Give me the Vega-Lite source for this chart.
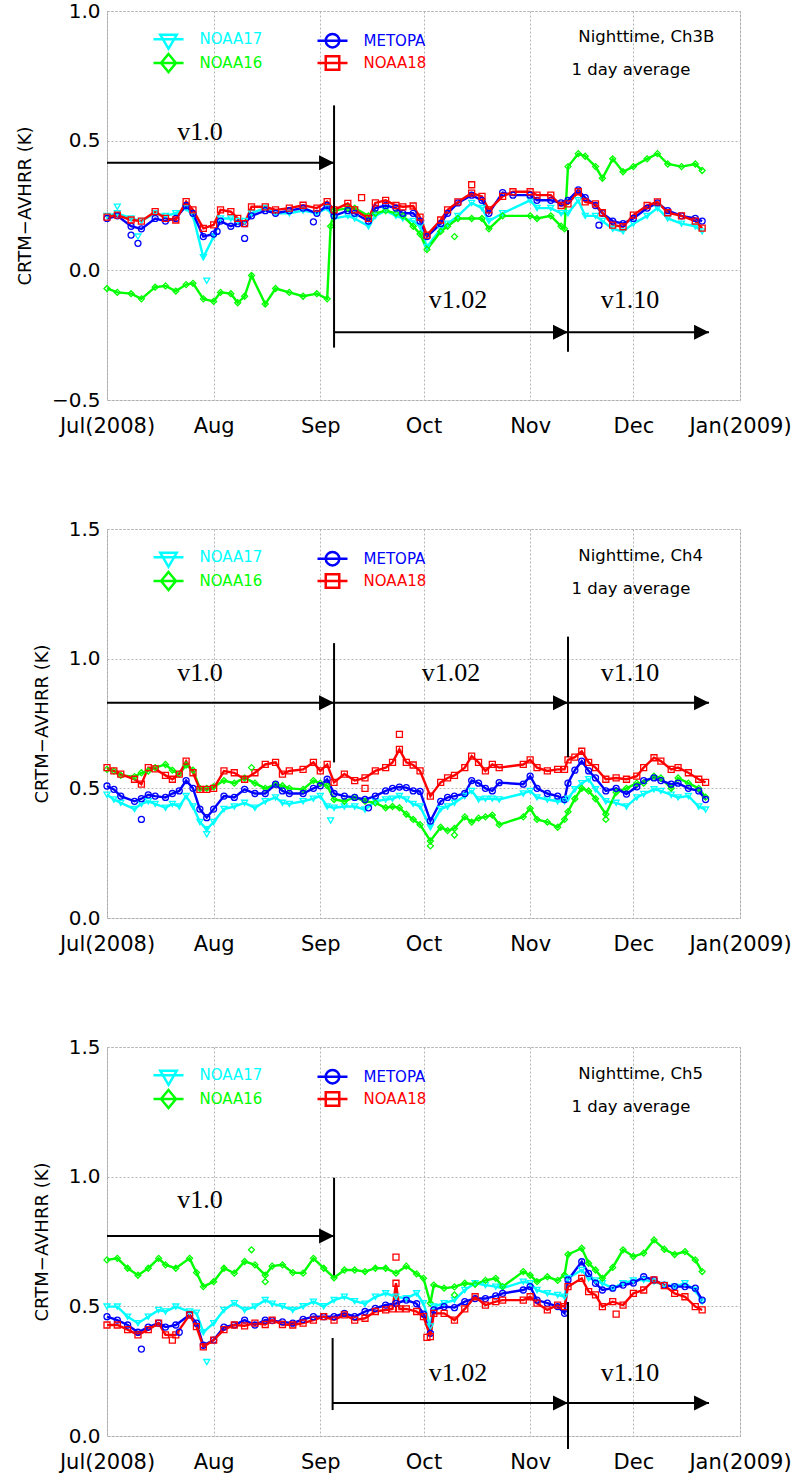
{
"$schema":"https://vega.github.io/schema/vega-lite/v6.json",
"padding":{"top":0,"left":16,"right":5,"bottom":0},
"spacing":81,
"config":{"font":"DejaVu Sans","view":{"stroke":"#a0a0a0","strokeDash":[2,2],"strokeWidth":1},
"axis":{"grid":true,"gridColor":"#b4b4b4","gridDash":[2,2],"gridWidth":1,"domain":false,"ticks":false,"labelFont":"DejaVu Sans","labelFontSize":20,"labelColor":"black","titleFont":"DejaVu Sans","titleFontSize":18,"titleFontWeight":"normal","titleColor":"black"},
"axisX":{"labelPadding":15,"labelAngle":0,"labelFontSize":21},"axisY":{"labelPadding":7,"titlePadding":16.5}},
"resolve":{"legend":{"color":"independent"}},
"datasets":{
"p1":[
{"d":"2008-07-01","NOAA17":0.21,"NOAA16":-0.07,"METOPA":0.20,"NOAA18":0.205},
{"d":"2008-07-04","NOAA17":0.22,"NOAA16":-0.085,"METOPA":0.21,"NOAA18":0.213},
{"d":"2008-07-08","NOAA17":0.20,"NOAA16":-0.09,"METOPA":0.17,"NOAA18":0.194},
{"d":"2008-07-11","NOAA17":0.19,"NOAA16":-0.11,"METOPA":0.16,"NOAA18":0.19},
{"d":"2008-07-15","NOAA17":0.22,"NOAA16":-0.065,"METOPA":0.20,"NOAA18":0.226},
{"d":"2008-07-18","NOAA17":0.21,"NOAA16":-0.06,"METOPA":0.19,"NOAA18":0.20},
{"d":"2008-07-21","NOAA17":0.22,"NOAA16":-0.08,"METOPA":0.20,"NOAA18":0.194},
{"d":"2008-07-24","NOAA17":0.24,"NOAA16":-0.055,"METOPA":0.25,"NOAA18":0.265},
{"d":"2008-07-26","NOAA17":0.21,"NOAA16":-0.05,"METOPA":0.22,"NOAA18":0.233},
{"d":"2008-07-29","NOAA17":0.05,"NOAA16":-0.11,"METOPA":0.13,"NOAA18":0.162},
{"d":"2008-08-01","NOAA17":0.13,"NOAA16":-0.12,"METOPA":0.14,"NOAA18":0.175},
{"d":"2008-08-03","NOAA17":0.20,"NOAA16":-0.085,"METOPA":0.19,"NOAA18":0.233},
{"d":"2008-08-06","NOAA17":0.20,"NOAA16":-0.09,"METOPA":0.17,"NOAA18":0.226},
{"d":"2008-08-08","NOAA17":0.19,"NOAA16":-0.125,"METOPA":0.18,"NOAA18":0.20},
{"d":"2008-08-10","NOAA17":0.19,"NOAA16":-0.10,"METOPA":0.18,"NOAA18":0.18},
{"d":"2008-08-12","NOAA17":0.22,"NOAA16":-0.02,"METOPA":0.21,"NOAA18":0.245},
{"d":"2008-08-16","NOAA17":0.24,"NOAA16":-0.13,"METOPA":0.23,"NOAA18":0.245},
{"d":"2008-08-19","NOAA17":0.22,"NOAA16":-0.07,"METOPA":0.22,"NOAA18":0.233},
{"d":"2008-08-23","NOAA17":0.22,"NOAA16":-0.085,"METOPA":0.23,"NOAA18":0.24},
{"d":"2008-08-27","NOAA17":0.23,"NOAA16":-0.10,"METOPA":0.24,"NOAA18":0.251},
{"d":"2008-08-31","NOAA17":0.22,"NOAA16":-0.09,"METOPA":0.22,"NOAA18":0.24},
{"d":"2008-09-03","NOAA17":0.24,"NOAA16":-0.11,"METOPA":0.25,"NOAA18":0.265},
{"d":"2008-09-04","NOAA16":0.17},
{"d":"2008-09-05","NOAA17":0.20,"NOAA16":0.23,"METOPA":0.21,"NOAA18":0.233},
{"d":"2008-09-09","NOAA17":0.21,"NOAA16":0.24,"METOPA":0.23,"NOAA18":0.258},
{"d":"2008-09-11","NOAA17":0.20,"NOAA16":0.24,"METOPA":0.22,"NOAA18":0.233},
{"d":"2008-09-15","NOAA17":0.17,"NOAA16":0.21,"METOPA":0.19,"NOAA18":0.20},
{"d":"2008-09-17","NOAA17":0.21,"NOAA16":0.22,"METOPA":0.24,"NOAA18":0.26},
{"d":"2008-09-20","NOAA17":0.23,"NOAA16":0.23,"METOPA":0.25,"NOAA18":0.27},
{"d":"2008-09-23","NOAA17":0.21,"NOAA16":0.22,"METOPA":0.24,"NOAA18":0.25},
{"d":"2008-09-25","NOAA17":0.20,"NOAA16":0.21,"METOPA":0.22,"NOAA18":0.245},
{"d":"2008-09-28","NOAA17":0.19,"NOAA16":0.17,"METOPA":0.22,"NOAA18":0.248},
{"d":"2008-09-30","NOAA17":0.17,"NOAA16":0.14,"METOPA":0.19,"NOAA18":0.205},
{"d":"2008-10-02","NOAA17":0.09,"NOAA16":0.08,"METOPA":0.13,"NOAA18":0.136},
{"d":"2008-10-06","NOAA17":0.16,"NOAA16":0.15,"METOPA":0.18,"NOAA18":0.194},
{"d":"2008-10-08","NOAA17":0.18,"NOAA16":0.17,"METOPA":0.22,"NOAA18":0.233},
{"d":"2008-10-11","NOAA17":0.21,"NOAA16":0.20,"METOPA":0.26,"NOAA18":0.264},
{"d":"2008-10-15","NOAA17":0.26,"NOAA16":0.20,"METOPA":0.29,"NOAA18":0.298},
{"d":"2008-10-18","NOAA17":0.24,"NOAA16":0.20,"METOPA":0.27,"NOAA18":0.285},
{"d":"2008-10-20","NOAA17":0.19,"NOAA16":0.16,"METOPA":0.22,"NOAA18":0.233},
{"d":"2008-10-24","NOAA17":0.22,"NOAA16":0.21,"METOPA":0.30,"NOAA18":0.285},
{"d":"2008-10-27","METOPA":0.29,"NOAA18":0.303},
{"d":"2008-11-01","NOAA17":0.27,"NOAA16":0.21,"METOPA":0.29,"NOAA18":0.303},
{"d":"2008-11-03","NOAA17":0.24,"NOAA16":0.20,"METOPA":0.27,"NOAA18":0.29},
{"d":"2008-11-07","NOAA17":0.24,"NOAA16":0.21,"METOPA":0.27,"NOAA18":0.29},
{"d":"2008-11-10","NOAA17":0.22,"NOAA16":0.17,"METOPA":0.26,"NOAA18":0.25},
{"d":"2008-11-11","NOAA16":0.16},
{"d":"2008-11-12","NOAA17":0.22,"NOAA16":0.40,"METOPA":0.27,"NOAA18":0.256},
{"d":"2008-11-15","NOAA17":0.27,"NOAA16":0.45,"METOPA":0.31,"NOAA18":0.303},
{"d":"2008-11-17","NOAA17":0.21,"NOAA16":0.44,"METOPA":0.28,"NOAA18":0.264},
{"d":"2008-11-20","NOAA17":0.21,"NOAA16":0.40,"METOPA":0.25,"NOAA18":0.256},
{"d":"2008-11-22","NOAA17":0.19,"NOAA16":0.355,"METOPA":0.22,"NOAA18":0.222},
{"d":"2008-11-25","NOAA17":0.16,"NOAA16":0.43,"METOPA":0.19,"NOAA18":0.174},
{"d":"2008-11-28","NOAA17":0.15,"NOAA16":0.38,"METOPA":0.18,"NOAA18":0.168},
{"d":"2008-12-01","NOAA17":0.18,"NOAA16":0.40,"METOPA":0.20,"NOAA18":0.213},
{"d":"2008-12-05","NOAA17":0.21,"NOAA16":0.43,"METOPA":0.24,"NOAA18":0.25},
{"d":"2008-12-08","NOAA17":0.24,"NOAA16":0.45,"METOPA":0.26,"NOAA18":0.264},
{"d":"2008-12-11","NOAA17":0.20,"NOAA16":0.41,"METOPA":0.23,"NOAA18":0.222},
{"d":"2008-12-15","NOAA17":0.18,"NOAA16":0.40,"METOPA":0.21,"NOAA18":0.21},
{"d":"2008-12-19","NOAA17":0.17,"NOAA16":0.41,"METOPA":0.20,"NOAA18":0.19},
{"d":"2008-12-21","NOAA17":0.15,"NOAA16":0.385,"METOPA":0.19,"NOAA18":0.163}
],
"o1":[
{"d":"2008-07-08","s":"METOPA","v":0.136},{"d":"2008-07-10","s":"METOPA","v":0.104},{"d":"2008-07-10","s":"NOAA17","v":0.13},
{"d":"2008-07-30","s":"NOAA17","v":-0.04},{"d":"2008-08-10","s":"METOPA","v":0.123},{"d":"2008-08-02","s":"METOPA","v":0.15},
{"d":"2008-08-30","s":"METOPA","v":0.187},{"d":"2008-10-10","s":"NOAA16","v":0.13},{"d":"2008-11-21","s":"METOPA","v":0.174},
{"d":"2008-10-15","s":"NOAA18","v":0.33},{"d":"2008-07-04","s":"NOAA17","v":0.245},{"d":"2008-09-13","s":"NOAA18","v":0.28}
],
"a1":[{"d":"2008-07-01","d2":"2008-09-05","v":0.415},{"d":"2008-09-05","d2":"2008-11-12","v":-0.239},{"d":"2008-11-12","d2":"2008-12-23","v":-0.239}],
"v1":[{"d":"2008-09-05","v":0.636,"v2":-0.298},{"d":"2008-11-12","v":0.155,"v2":-0.314}],
"t1":[{"d":"2008-07-28","v":0.504,"t":"v1.0"},{"d":"2008-10-11","v":-0.147,"t":"v1.02"},{"d":"2008-11-30","v":-0.147,"t":"v1.10"}],
"n1":[{"d":"2008-11-15","v":0.88,"t":"Nighttime, Ch3B"},{"d":"2008-11-13","v":0.752,"t":"1 day average"}],
"p2":[
{"d":"2008-07-01","NOAA17":0.475,"NOAA16":0.573,"METOPA":0.509,"NOAA18":0.58},
{"d":"2008-07-03","NOAA17":0.457,"NOAA16":0.567,"METOPA":0.496,"NOAA18":0.567},
{"d":"2008-07-05","NOAA17":0.444,"NOAA16":0.55,"METOPA":0.47,"NOAA18":0.555},
{"d":"2008-07-09","NOAA17":0.42,"NOAA16":0.545,"METOPA":0.45,"NOAA18":0.535},
{"d":"2008-07-11","NOAA17":0.44,"NOAA16":0.56,"METOPA":0.46,"NOAA18":0.516},
{"d":"2008-07-13","NOAA17":0.45,"NOAA16":0.567,"METOPA":0.475,"NOAA18":0.58},
{"d":"2008-07-15","NOAA17":0.44,"NOAA16":0.58,"METOPA":0.47,"NOAA18":0.575},
{"d":"2008-07-18","NOAA17":0.425,"NOAA16":0.592,"METOPA":0.465,"NOAA18":0.55},
{"d":"2008-07-20","NOAA17":0.44,"NOAA16":0.57,"METOPA":0.48,"NOAA18":0.535},
{"d":"2008-07-22","NOAA17":0.43,"NOAA16":0.555,"METOPA":0.49,"NOAA18":0.555},
{"d":"2008-07-24","NOAA17":0.47,"NOAA16":0.59,"METOPA":0.53,"NOAA18":0.605},
{"d":"2008-07-26","NOAA17":0.43,"NOAA16":0.57,"METOPA":0.50,"NOAA18":0.56},
{"d":"2008-07-28","NOAA17":0.37,"NOAA16":0.50,"METOPA":0.42,"NOAA18":0.496},
{"d":"2008-07-30","NOAA17":0.342,"NOAA16":0.50,"METOPA":0.387,"NOAA18":0.496},
{"d":"2008-08-01","NOAA17":0.37,"NOAA16":0.506,"METOPA":0.42,"NOAA18":0.50},
{"d":"2008-08-04","NOAA17":0.42,"NOAA16":0.53,"METOPA":0.47,"NOAA18":0.567},
{"d":"2008-08-07","NOAA17":0.43,"NOAA16":0.52,"METOPA":0.465,"NOAA18":0.56},
{"d":"2008-08-10","NOAA17":0.444,"NOAA16":0.54,"METOPA":0.496,"NOAA18":0.535},
{"d":"2008-08-13","NOAA17":0.425,"NOAA16":0.52,"METOPA":0.48,"NOAA18":0.56},
{"d":"2008-08-16","NOAA17":0.45,"NOAA16":0.50,"METOPA":0.48,"NOAA18":0.592},
{"d":"2008-08-19","NOAA17":0.465,"NOAA16":0.515,"METOPA":0.516,"NOAA18":0.60},
{"d":"2008-08-21","NOAA17":0.444,"NOAA16":0.51,"METOPA":0.49,"NOAA18":0.555},
{"d":"2008-08-23","NOAA17":0.44,"NOAA16":0.50,"METOPA":0.48,"NOAA18":0.567},
{"d":"2008-08-27","NOAA17":0.45,"NOAA16":0.496,"METOPA":0.48,"NOAA18":0.573},
{"d":"2008-08-30","NOAA17":0.46,"NOAA16":0.53,"METOPA":0.50,"NOAA18":0.60},
{"d":"2008-09-01","NOAA17":0.47,"NOAA16":0.52,"METOPA":0.51,"NOAA18":0.567},
{"d":"2008-09-03","NOAA17":0.43,"NOAA16":0.51,"METOPA":0.535,"NOAA18":0.592},
{"d":"2008-09-05","NOAA17":0.425,"NOAA16":0.457,"METOPA":0.48,"NOAA18":0.523},
{"d":"2008-09-08","NOAA17":0.43,"NOAA16":0.45,"METOPA":0.47,"NOAA18":0.555},
{"d":"2008-09-11","NOAA17":0.43,"NOAA16":0.465,"METOPA":0.465,"NOAA18":0.53},
{"d":"2008-09-14","NOAA17":0.418,"NOAA16":0.45,"METOPA":0.457,"NOAA18":0.54},
{"d":"2008-09-17","NOAA17":0.45,"NOAA16":0.444,"METOPA":0.47,"NOAA18":0.567},
{"d":"2008-09-20","NOAA17":0.457,"NOAA16":0.425,"METOPA":0.49,"NOAA18":0.58},
{"d":"2008-09-22","NOAA17":0.46,"NOAA16":0.43,"METOPA":0.50,"NOAA18":0.60},
{"d":"2008-09-24","NOAA17":0.47,"NOAA16":0.425,"METOPA":0.505,"NOAA18":0.65},
{"d":"2008-09-26","NOAA17":0.457,"NOAA16":0.40,"METOPA":0.503,"NOAA18":0.60},
{"d":"2008-09-28","NOAA17":0.44,"NOAA16":0.38,"METOPA":0.49,"NOAA18":0.59},
{"d":"2008-09-30","NOAA17":0.43,"NOAA16":0.36,"METOPA":0.488,"NOAA18":0.567},
{"d":"2008-10-03","NOAA17":0.35,"NOAA16":0.297,"METOPA":0.374,"NOAA18":0.47},
{"d":"2008-10-06","NOAA17":0.42,"NOAA16":0.35,"METOPA":0.45,"NOAA18":0.523},
{"d":"2008-10-08","NOAA17":0.43,"NOAA16":0.337,"METOPA":0.465,"NOAA18":0.54},
{"d":"2008-10-10","NOAA17":0.444,"NOAA16":0.345,"METOPA":0.47,"NOAA18":0.55},
{"d":"2008-10-13","NOAA17":0.47,"NOAA16":0.39,"METOPA":0.48,"NOAA18":0.58},
{"d":"2008-10-15","NOAA17":0.49,"NOAA16":0.37,"METOPA":0.53,"NOAA18":0.624},
{"d":"2008-10-17","NOAA17":0.457,"NOAA16":0.385,"METOPA":0.52,"NOAA18":0.60},
{"d":"2008-10-19","NOAA17":0.46,"NOAA16":0.39,"METOPA":0.50,"NOAA18":0.567},
{"d":"2008-10-21","NOAA17":0.46,"NOAA16":0.397,"METOPA":0.49,"NOAA18":0.592},
{"d":"2008-10-23","NOAA17":0.457,"NOAA16":0.36,"METOPA":0.522,"NOAA18":0.58},
{"d":"2008-10-30","NOAA17":0.48,"NOAA16":0.39,"METOPA":0.516,"NOAA18":0.592},
{"d":"2008-11-01","NOAA17":0.49,"NOAA16":0.423,"METOPA":0.547,"NOAA18":0.61},
{"d":"2008-11-03","NOAA17":0.465,"NOAA16":0.38,"METOPA":0.50,"NOAA18":0.58},
{"d":"2008-11-06","NOAA17":0.457,"NOAA16":0.37,"METOPA":0.48,"NOAA18":0.567},
{"d":"2008-11-09","NOAA17":0.45,"NOAA16":0.35,"METOPA":0.47,"NOAA18":0.573},
{"d":"2008-11-11","NOAA17":0.45,"NOAA16":0.38,"METOPA":0.457,"NOAA18":0.573},
{"d":"2008-11-12","NOAA17":0.46,"NOAA16":0.41,"METOPA":0.52,"NOAA18":0.61},
{"d":"2008-11-14","NOAA17":0.496,"NOAA16":0.46,"METOPA":0.57,"NOAA18":0.62},
{"d":"2008-11-16","NOAA17":0.52,"NOAA16":0.50,"METOPA":0.605,"NOAA18":0.643},
{"d":"2008-11-18","NOAA17":0.535,"NOAA16":0.49,"METOPA":0.567,"NOAA18":0.60},
{"d":"2008-11-20","NOAA17":0.496,"NOAA16":0.46,"METOPA":0.54,"NOAA18":0.58},
{"d":"2008-11-23","NOAA17":0.45,"NOAA16":0.40,"METOPA":0.49,"NOAA18":0.535},
{"d":"2008-11-26","NOAA17":0.444,"NOAA16":0.485,"METOPA":0.50,"NOAA18":0.54},
{"d":"2008-11-29","NOAA17":0.43,"NOAA16":0.50,"METOPA":0.478,"NOAA18":0.535},
{"d":"2008-12-02","NOAA17":0.465,"NOAA16":0.52,"METOPA":0.506,"NOAA18":0.547},
{"d":"2008-12-04","NOAA17":0.478,"NOAA16":0.52,"METOPA":0.53,"NOAA18":0.58},
{"d":"2008-12-07","NOAA17":0.496,"NOAA16":0.547,"METOPA":0.54,"NOAA18":0.618},
{"d":"2008-12-09","NOAA17":0.49,"NOAA16":0.54,"METOPA":0.53,"NOAA18":0.605},
{"d":"2008-12-12","NOAA17":0.475,"NOAA16":0.50,"METOPA":0.516,"NOAA18":0.573},
{"d":"2008-12-14","NOAA17":0.465,"NOAA16":0.54,"METOPA":0.52,"NOAA18":0.58},
{"d":"2008-12-17","NOAA17":0.47,"NOAA16":0.52,"METOPA":0.50,"NOAA18":0.56},
{"d":"2008-12-20","NOAA17":0.43,"NOAA16":0.50,"METOPA":0.49,"NOAA18":0.535},
{"d":"2008-12-22","NOAA17":0.418,"NOAA16":0.466,"METOPA":0.457,"NOAA18":0.523}
],
"o2":[
{"d":"2008-09-24","s":"NOAA18","v":0.708},{"d":"2008-09-14","s":"NOAA18","v":0.50},{"d":"2008-07-11","s":"METOPA","v":0.38},
{"d":"2008-09-04","s":"NOAA17","v":0.376},{"d":"2008-09-15","s":"METOPA","v":0.425},{"d":"2008-08-12","s":"NOAA16","v":0.58},
{"d":"2008-10-03","s":"NOAA16","v":0.278},{"d":"2008-10-10","s":"NOAA16","v":0.32},{"d":"2008-11-23","s":"NOAA16","v":0.38},
{"d":"2008-07-30","s":"NOAA17","v":0.323}
],
"a2":[{"d":"2008-07-01","d2":"2008-09-05","v":0.83},{"d":"2008-09-05","d2":"2008-11-12","v":0.83},{"d":"2008-11-12","d2":"2008-12-23","v":0.83}],
"v2":[{"d":"2008-09-05","v":1.06,"v2":0.60},{"d":"2008-11-12","v":1.085,"v2":0.62}],
"t2":[{"d":"2008-07-28","v":0.915,"t":"v1.0"},{"d":"2008-10-09","v":0.915,"t":"v1.02"},{"d":"2008-11-30","v":0.915,"t":"v1.10"}],
"n2":[{"d":"2008-11-15","v":1.377,"t":"Nighttime, Ch4"},{"d":"2008-11-13","v":1.25,"t":"1 day average"}],
"p3":[
{"d":"2008-07-01","NOAA17":0.499,"NOAA16":0.679,"METOPA":0.46,"NOAA18":0.428},
{"d":"2008-07-04","NOAA17":0.499,"NOAA16":0.685,"METOPA":0.447,"NOAA18":0.428},
{"d":"2008-07-07","NOAA17":0.46,"NOAA16":0.647,"METOPA":0.428,"NOAA18":0.41},
{"d":"2008-07-10","NOAA17":0.435,"NOAA16":0.62,"METOPA":0.40,"NOAA18":0.39},
{"d":"2008-07-13","NOAA17":0.46,"NOAA16":0.647,"METOPA":0.42,"NOAA18":0.41},
{"d":"2008-07-16","NOAA17":0.486,"NOAA16":0.685,"METOPA":0.435,"NOAA18":0.435},
{"d":"2008-07-18","NOAA17":0.48,"NOAA16":0.66,"METOPA":0.42,"NOAA18":0.39},
{"d":"2008-07-21","NOAA17":0.499,"NOAA16":0.647,"METOPA":0.428,"NOAA18":0.39},
{"d":"2008-07-25","NOAA17":0.48,"NOAA16":0.685,"METOPA":0.467,"NOAA18":0.467},
{"d":"2008-07-27","NOAA17":0.475,"NOAA16":0.63,"METOPA":0.435,"NOAA18":0.422},
{"d":"2008-07-29","NOAA17":0.40,"NOAA16":0.576,"METOPA":0.35,"NOAA18":0.344},
{"d":"2008-08-01","NOAA17":0.435,"NOAA16":0.595,"METOPA":0.37,"NOAA18":0.37},
{"d":"2008-08-04","NOAA17":0.486,"NOAA16":0.647,"METOPA":0.42,"NOAA18":0.41},
{"d":"2008-08-07","NOAA17":0.512,"NOAA16":0.628,"METOPA":0.428,"NOAA18":0.428},
{"d":"2008-08-10","NOAA17":0.486,"NOAA16":0.673,"METOPA":0.447,"NOAA18":0.425},
{"d":"2008-08-13","NOAA17":0.499,"NOAA16":0.66,"METOPA":0.428,"NOAA18":0.435},
{"d":"2008-08-16","NOAA17":0.524,"NOAA16":0.62,"METOPA":0.447,"NOAA18":0.43},
{"d":"2008-08-18","NOAA17":0.51,"NOAA16":0.655,"METOPA":0.445,"NOAA18":0.447},
{"d":"2008-08-21","NOAA17":0.50,"NOAA16":0.66,"METOPA":0.44,"NOAA18":0.43},
{"d":"2008-08-24","NOAA17":0.486,"NOAA16":0.63,"METOPA":0.435,"NOAA18":0.428},
{"d":"2008-08-27","NOAA17":0.50,"NOAA16":0.628,"METOPA":0.45,"NOAA18":0.435},
{"d":"2008-08-30","NOAA17":0.518,"NOAA16":0.685,"METOPA":0.46,"NOAA18":0.447},
{"d":"2008-09-02","NOAA17":0.50,"NOAA16":0.647,"METOPA":0.46,"NOAA18":0.46},
{"d":"2008-09-05","NOAA17":0.524,"NOAA16":0.61,"METOPA":0.46,"NOAA18":0.447},
{"d":"2008-09-08","NOAA17":0.537,"NOAA16":0.64,"METOPA":0.473,"NOAA18":0.467},
{"d":"2008-09-11","NOAA17":0.52,"NOAA16":0.64,"METOPA":0.46,"NOAA18":0.447},
{"d":"2008-09-14","NOAA17":0.51,"NOAA16":0.634,"METOPA":0.48,"NOAA18":0.454},
{"d":"2008-09-17","NOAA17":0.537,"NOAA16":0.647,"METOPA":0.492,"NOAA18":0.48},
{"d":"2008-09-20","NOAA17":0.55,"NOAA16":0.647,"METOPA":0.505,"NOAA18":0.486},
{"d":"2008-09-22","NOAA18":0.49},
{"d":"2008-09-23","NOAA17":0.537,"NOAA16":0.628,"METOPA":0.511,"NOAA18":0.589},
{"d":"2008-09-24","NOAA18":0.49},
{"d":"2008-09-26","NOAA17":0.531,"NOAA16":0.655,"METOPA":0.524,"NOAA18":0.49},
{"d":"2008-09-29","NOAA17":0.55,"NOAA16":0.625,"METOPA":0.51,"NOAA18":0.48},
{"d":"2008-10-01","NOAA17":0.512,"NOAA16":0.608,"METOPA":0.47,"NOAA18":0.46},
{"d":"2008-10-03","NOAA17":0.422,"NOAA16":0.512,"METOPA":0.396,"NOAA18":0.383},
{"d":"2008-10-04","NOAA17":0.499,"NOAA16":0.582,"METOPA":0.486,"NOAA18":0.473},
{"d":"2008-10-07","NOAA17":0.512,"NOAA16":0.57,"METOPA":0.499,"NOAA18":0.473},
{"d":"2008-10-10","NOAA17":0.524,"NOAA16":0.575,"METOPA":0.495,"NOAA18":0.447},
{"d":"2008-10-13","NOAA17":0.563,"NOAA16":0.589,"METOPA":0.518,"NOAA18":0.49},
{"d":"2008-10-16","NOAA17":0.589,"NOAA16":0.585,"METOPA":0.53,"NOAA18":0.537},
{"d":"2008-10-19","NOAA17":0.582,"NOAA16":0.60,"METOPA":0.53,"NOAA18":0.505},
{"d":"2008-10-22","NOAA17":0.576,"NOAA16":0.608,"METOPA":0.54,"NOAA18":0.518},
{"d":"2008-10-24","NOAA17":0.57,"NOAA16":0.576,"METOPA":0.55,"NOAA18":0.524},
{"d":"2008-10-30","NOAA17":0.595,"NOAA16":0.634,"METOPA":0.563,"NOAA18":0.524},
{"d":"2008-11-01","NOAA17":0.589,"NOAA16":0.62,"METOPA":0.576,"NOAA18":0.537},
{"d":"2008-11-03","NOAA17":0.563,"NOAA16":0.595,"METOPA":0.524,"NOAA18":0.512},
{"d":"2008-11-06","NOAA17":0.55,"NOAA16":0.614,"METOPA":0.512,"NOAA18":0.486},
{"d":"2008-11-09","NOAA17":0.544,"NOAA16":0.60,"METOPA":0.499,"NOAA18":0.505},
{"d":"2008-11-11","NOAA17":0.537,"NOAA16":0.621,"METOPA":0.473,"NOAA18":0.499},
{"d":"2008-11-12","NOAA17":0.608,"NOAA16":0.70,"METOPA":0.602,"NOAA18":0.576},
{"d":"2008-11-16","NOAA17":0.64,"NOAA16":0.724,"METOPA":0.672,"NOAA18":0.608},
{"d":"2008-11-18","NOAA17":0.608,"NOAA16":0.666,"METOPA":0.627,"NOAA18":0.557},
{"d":"2008-11-20","NOAA17":0.60,"NOAA16":0.64,"METOPA":0.589,"NOAA18":0.544},
{"d":"2008-11-22","NOAA17":0.589,"NOAA16":0.608,"METOPA":0.563,"NOAA18":0.499},
{"d":"2008-11-25","NOAA17":0.57,"NOAA16":0.65,"METOPA":0.57,"NOAA18":0.518},
{"d":"2008-11-28","NOAA17":0.589,"NOAA16":0.718,"METOPA":0.582,"NOAA18":0.505},
{"d":"2008-12-01","NOAA17":0.60,"NOAA16":0.692,"METOPA":0.59,"NOAA18":0.55},
{"d":"2008-12-04","NOAA17":0.602,"NOAA16":0.705,"METOPA":0.614,"NOAA18":0.563},
{"d":"2008-12-07","NOAA17":0.595,"NOAA16":0.756,"METOPA":0.602,"NOAA18":0.602},
{"d":"2008-12-10","NOAA17":0.582,"NOAA16":0.72,"METOPA":0.582,"NOAA18":0.58},
{"d":"2008-12-13","NOAA17":0.576,"NOAA16":0.70,"METOPA":0.576,"NOAA18":0.55},
{"d":"2008-12-16","NOAA17":0.589,"NOAA16":0.711,"METOPA":0.576,"NOAA18":0.537},
{"d":"2008-12-19","NOAA17":0.563,"NOAA16":0.679,"METOPA":0.57,"NOAA18":0.499},
{"d":"2008-12-21","NOAA17":0.518,"NOAA16":0.634,"METOPA":0.524,"NOAA18":0.486}
],
"o3":[
{"d":"2008-09-23","s":"NOAA18","v":0.69},{"d":"2008-07-30","s":"NOAA17","v":0.285},{"d":"2008-07-11","s":"METOPA","v":0.335},
{"d":"2008-08-12","s":"NOAA16","v":0.718},{"d":"2008-08-16","s":"NOAA16","v":0.595},{"d":"2008-07-20","s":"NOAA18","v":0.37},
{"d":"2008-10-10","s":"NOAA16","v":0.544},{"d":"2008-10-02","s":"NOAA18","v":0.38},{"d":"2008-11-26","s":"NOAA18","v":0.47},
{"d":"2008-07-22","s":"METOPA","v":0.40}
],
"a3":[{"d":"2008-07-01","d2":"2008-09-05","v":0.771},{"d":"2008-09-04T14:00:00Z","d2":"2008-11-12","v":0.127},{"d":"2008-11-12","d2":"2008-12-23","v":0.127}],
"v3":[{"d":"2008-09-05","v":0.996,"v2":0.62},{"d":"2008-09-04T14:00:00Z","v":0.378,"v2":0.10},{"d":"2008-11-12","v":0.517,"v2":-0.05}],
"t3":[{"d":"2008-07-28","v":0.879,"t":"v1.0"},{"d":"2008-10-11","v":0.212,"t":"v1.02"},{"d":"2008-11-30","v":0.212,"t":"v1.10"}],
"n3":[{"d":"2008-11-15","v":1.377,"t":"Nighttime, Ch5"},{"d":"2008-11-13","v":1.25,"t":"1 day average"}]
},
"vconcat":[
{"width":633,"height":389,
"encoding":{
"x":{"field":"d","type":"temporal","scale":{"type":"utc","domain":[{"year":2008,"month":7,"date":1,"utc":true},{"year":2009,"month":1,"date":1,"utc":true}]},"axis":{"title":null,"values":[{"year":2008,"month":7,"date":1,"utc":true},{"year":2008,"month":8,"date":1,"utc":true},{"year":2008,"month":9,"date":1,"utc":true},{"year":2008,"month":10,"date":1,"utc":true},{"year":2008,"month":11,"date":1,"utc":true},{"year":2008,"month":12,"date":1,"utc":true},{"year":2009,"month":1,"date":1,"utc":true}],"labelExpr":"utcFormat(datum.value, '%b') + (utcmonth(datum.value) == 6 ? '(2008)' : utcmonth(datum.value) == 0 ? '(2009)' : '')","labelFlush":false,"labelOverlap":false,"labelBound":false}},
"y":{"field":"v","type":"quantitative","scale":{"domain":[-0.5,1.0],"nice":false,"zero":false},"axis":{"title":"CRTM−AVHRR (K)","values":[-0.5,0,0.5,1],"format":".1f"}}},
"layer":[
{"data":{"name":"p1"},"transform":[{"fold":["NOAA17","NOAA16","METOPA","NOAA18"],"as":["s","v"]},{"filter":"isValid(datum.v)"}],
"mark":{"type":"line","strokeWidth":2.4},
"encoding":{"color":{"field":"s","type":"nominal","scale":{"domain":["NOAA17","METOPA","NOAA16","NOAA18"],"range":["#00ffff","#0000ff","#00ff00","#ff0000"]},
"legend":{"orient":"none","legendX":52.5,"legendY":19,"columns":2,"direction":"horizontal","title":null,"padding":0,"symbolSize":225,"symbolStrokeWidth":2.5,"labelFont":"DejaVu Sans","labelFontSize":15,"labelOffset":22,"columnPadding":50,"rowPadding":-5,
"encode":{"symbols":{"update":{"shape":{"signal":"datum.value==='NOAA17'?'M-2,0H2M-1.1,-0.6H1.1L0,1.3Z':datum.value==='NOAA16'?'M-2,0H2M0,-1.2L1,0L0,1.2L-1,0Z':datum.value==='METOPA'?'M-2,0H2M0.9,0A0.9,0.9,0,1,1,-0.9,0A0.9,0.9,0,1,1,0.9,0':'M-2,0H2M-0.9,-0.9H0.9V0.9H-0.9Z'"},"stroke":{"signal":"datum.value==='NOAA17'?'#00ffff':datum.value==='NOAA16'?'#00ff00':datum.value==='METOPA'?'#0000ff':'#ff0000'"},"fill":{"value":"transparent"},"strokeWidth":{"value":2.5},"size":{"value":225},"opacity":{"value":1}}},
"labels":{"update":{"fill":{"signal":"datum.value==='NOAA17'?'#00ffff':datum.value==='NOAA16'?'#00ff00':datum.value==='METOPA'?'#0000ff':'#ff0000'"}}}}}}}},
{"data":{"name":"p1"},"transform":[{"fold":["NOAA17","NOAA16","METOPA","NOAA18"],"as":["s","v"]},{"filter":"isValid(datum.v)"}],
"mark":{"type":"point","filled":false,"size":36,"strokeWidth":1.3,"opacity":1},
"encoding":{"color":{"field":"s","type":"nominal","scale":{"domain":["NOAA17","METOPA","NOAA16","NOAA18"],"range":["#00ffff","#0000ff","#00ff00","#ff0000"]},"legend":null},"shape":{"field":"s","type":"nominal","scale":{"domain":["NOAA17","METOPA","NOAA16","NOAA18"],"range":["triangle-down","circle","diamond","square"]},"legend":null}}},
{"data":{"name":"o1"},
"mark":{"type":"point","filled":false,"size":36,"strokeWidth":1.3,"opacity":1},
"encoding":{"color":{"field":"s","type":"nominal","scale":{"domain":["NOAA17","METOPA","NOAA16","NOAA18"],"range":["#00ffff","#0000ff","#00ff00","#ff0000"]},"legend":null},"shape":{"field":"s","type":"nominal","scale":{"domain":["NOAA17","METOPA","NOAA16","NOAA18"],"range":["triangle-down","circle","diamond","square"]},"legend":null}}},
{"data":{"name":"v1"},"mark":{"type":"rule","color":"black","strokeWidth":2},"encoding":{"y2":{"field":"v2"}}},
{"data":{"name":"a1"},"mark":{"type":"rule","color":"black","strokeWidth":2},"encoding":{"x2":{"field":"d2"}}},
{"data":{"name":"a1"},"mark":{"type":"point","shape":"M0,0L-2,-1L-2,1Z","filled":true,"color":"black","size":225,"opacity":1},"encoding":{"x":{"field":"d2","type":"temporal","scale":{"type":"utc","domain":[{"year":2008,"month":7,"date":1,"utc":true},{"year":2009,"month":1,"date":1,"utc":true}]}}}},
{"data":{"name":"t1"},"mark":{"type":"text","font":"Liberation Serif","fontSize":26,"align":"center","baseline":"alphabetic","color":"black"},"encoding":{"text":{"field":"t"}}},
{"data":{"name":"n1"},"mark":{"type":"text","font":"DejaVu Sans","fontSize":16.5,"align":"left","baseline":"alphabetic","color":"black"},"encoding":{"text":{"field":"t"}}}
]},
{"width":633,"height":389,
"encoding":{
"x":{"field":"d","type":"temporal","scale":{"type":"utc","domain":[{"year":2008,"month":7,"date":1,"utc":true},{"year":2009,"month":1,"date":1,"utc":true}]},"axis":{"title":null,"values":[{"year":2008,"month":7,"date":1,"utc":true},{"year":2008,"month":8,"date":1,"utc":true},{"year":2008,"month":9,"date":1,"utc":true},{"year":2008,"month":10,"date":1,"utc":true},{"year":2008,"month":11,"date":1,"utc":true},{"year":2008,"month":12,"date":1,"utc":true},{"year":2009,"month":1,"date":1,"utc":true}],"labelExpr":"utcFormat(datum.value, '%b') + (utcmonth(datum.value) == 6 ? '(2008)' : utcmonth(datum.value) == 0 ? '(2009)' : '')","labelFlush":false,"labelOverlap":false,"labelBound":false}},
"y":{"field":"v","type":"quantitative","scale":{"domain":[0,1.5],"nice":false,"zero":false},"axis":{"title":"CRTM−AVHRR (K)","values":[0,0.5,1,1.5],"format":".1f"}}},
"layer":[
{"data":{"name":"p2"},"transform":[{"fold":["NOAA17","NOAA16","METOPA","NOAA18"],"as":["s","v"]},{"filter":"isValid(datum.v)"}],
"mark":{"type":"line","strokeWidth":2.4},
"encoding":{"color":{"field":"s","type":"nominal","scale":{"domain":["NOAA17","METOPA","NOAA16","NOAA18"],"range":["#00ffff","#0000ff","#00ff00","#ff0000"]},
"legend":{"orient":"none","legendX":52.5,"legendY":19,"columns":2,"direction":"horizontal","title":null,"padding":0,"symbolSize":225,"symbolStrokeWidth":2.5,"labelFont":"DejaVu Sans","labelFontSize":15,"labelOffset":22,"columnPadding":50,"rowPadding":-5,
"encode":{"symbols":{"update":{"shape":{"signal":"datum.value==='NOAA17'?'M-2,0H2M-1.1,-0.6H1.1L0,1.3Z':datum.value==='NOAA16'?'M-2,0H2M0,-1.2L1,0L0,1.2L-1,0Z':datum.value==='METOPA'?'M-2,0H2M0.9,0A0.9,0.9,0,1,1,-0.9,0A0.9,0.9,0,1,1,0.9,0':'M-2,0H2M-0.9,-0.9H0.9V0.9H-0.9Z'"},"stroke":{"signal":"datum.value==='NOAA17'?'#00ffff':datum.value==='NOAA16'?'#00ff00':datum.value==='METOPA'?'#0000ff':'#ff0000'"},"fill":{"value":"transparent"},"strokeWidth":{"value":2.5},"size":{"value":225},"opacity":{"value":1}}},
"labels":{"update":{"fill":{"signal":"datum.value==='NOAA17'?'#00ffff':datum.value==='NOAA16'?'#00ff00':datum.value==='METOPA'?'#0000ff':'#ff0000'"}}}}}}}},
{"data":{"name":"p2"},"transform":[{"fold":["NOAA17","NOAA16","METOPA","NOAA18"],"as":["s","v"]},{"filter":"isValid(datum.v)"}],
"mark":{"type":"point","filled":false,"size":36,"strokeWidth":1.3,"opacity":1},
"encoding":{"color":{"field":"s","type":"nominal","scale":{"domain":["NOAA17","METOPA","NOAA16","NOAA18"],"range":["#00ffff","#0000ff","#00ff00","#ff0000"]},"legend":null},"shape":{"field":"s","type":"nominal","scale":{"domain":["NOAA17","METOPA","NOAA16","NOAA18"],"range":["triangle-down","circle","diamond","square"]},"legend":null}}},
{"data":{"name":"o2"},
"mark":{"type":"point","filled":false,"size":36,"strokeWidth":1.3,"opacity":1},
"encoding":{"color":{"field":"s","type":"nominal","scale":{"domain":["NOAA17","METOPA","NOAA16","NOAA18"],"range":["#00ffff","#0000ff","#00ff00","#ff0000"]},"legend":null},"shape":{"field":"s","type":"nominal","scale":{"domain":["NOAA17","METOPA","NOAA16","NOAA18"],"range":["triangle-down","circle","diamond","square"]},"legend":null}}},
{"data":{"name":"v2"},"mark":{"type":"rule","color":"black","strokeWidth":2},"encoding":{"y2":{"field":"v2"}}},
{"data":{"name":"a2"},"mark":{"type":"rule","color":"black","strokeWidth":2},"encoding":{"x2":{"field":"d2"}}},
{"data":{"name":"a2"},"mark":{"type":"point","shape":"M0,0L-2,-1L-2,1Z","filled":true,"color":"black","size":225,"opacity":1},"encoding":{"x":{"field":"d2","type":"temporal","scale":{"type":"utc","domain":[{"year":2008,"month":7,"date":1,"utc":true},{"year":2009,"month":1,"date":1,"utc":true}]}}}},
{"data":{"name":"t2"},"mark":{"type":"text","font":"Liberation Serif","fontSize":26,"align":"center","baseline":"alphabetic","color":"black"},"encoding":{"text":{"field":"t"}}},
{"data":{"name":"n2"},"mark":{"type":"text","font":"DejaVu Sans","fontSize":16.5,"align":"left","baseline":"alphabetic","color":"black"},"encoding":{"text":{"field":"t"}}}
]},
{"width":633,"height":389,
"encoding":{
"x":{"field":"d","type":"temporal","scale":{"type":"utc","domain":[{"year":2008,"month":7,"date":1,"utc":true},{"year":2009,"month":1,"date":1,"utc":true}]},"axis":{"title":null,"values":[{"year":2008,"month":7,"date":1,"utc":true},{"year":2008,"month":8,"date":1,"utc":true},{"year":2008,"month":9,"date":1,"utc":true},{"year":2008,"month":10,"date":1,"utc":true},{"year":2008,"month":11,"date":1,"utc":true},{"year":2008,"month":12,"date":1,"utc":true},{"year":2009,"month":1,"date":1,"utc":true}],"labelExpr":"utcFormat(datum.value, '%b') + (utcmonth(datum.value) == 6 ? '(2008)' : utcmonth(datum.value) == 0 ? '(2009)' : '')","labelFlush":false,"labelOverlap":false,"labelBound":false}},
"y":{"field":"v","type":"quantitative","scale":{"domain":[0,1.5],"nice":false,"zero":false},"axis":{"title":"CRTM−AVHRR (K)","values":[0,0.5,1,1.5],"format":".1f"}}},
"layer":[
{"data":{"name":"p3"},"transform":[{"fold":["NOAA17","NOAA16","METOPA","NOAA18"],"as":["s","v"]},{"filter":"isValid(datum.v)"}],
"mark":{"type":"line","strokeWidth":2.4},
"encoding":{"color":{"field":"s","type":"nominal","scale":{"domain":["NOAA17","METOPA","NOAA16","NOAA18"],"range":["#00ffff","#0000ff","#00ff00","#ff0000"]},
"legend":{"orient":"none","legendX":52.5,"legendY":19,"columns":2,"direction":"horizontal","title":null,"padding":0,"symbolSize":225,"symbolStrokeWidth":2.5,"labelFont":"DejaVu Sans","labelFontSize":15,"labelOffset":22,"columnPadding":50,"rowPadding":-5,
"encode":{"symbols":{"update":{"shape":{"signal":"datum.value==='NOAA17'?'M-2,0H2M-1.1,-0.6H1.1L0,1.3Z':datum.value==='NOAA16'?'M-2,0H2M0,-1.2L1,0L0,1.2L-1,0Z':datum.value==='METOPA'?'M-2,0H2M0.9,0A0.9,0.9,0,1,1,-0.9,0A0.9,0.9,0,1,1,0.9,0':'M-2,0H2M-0.9,-0.9H0.9V0.9H-0.9Z'"},"stroke":{"signal":"datum.value==='NOAA17'?'#00ffff':datum.value==='NOAA16'?'#00ff00':datum.value==='METOPA'?'#0000ff':'#ff0000'"},"fill":{"value":"transparent"},"strokeWidth":{"value":2.5},"size":{"value":225},"opacity":{"value":1}}},
"labels":{"update":{"fill":{"signal":"datum.value==='NOAA17'?'#00ffff':datum.value==='NOAA16'?'#00ff00':datum.value==='METOPA'?'#0000ff':'#ff0000'"}}}}}}}},
{"data":{"name":"p3"},"transform":[{"fold":["NOAA17","NOAA16","METOPA","NOAA18"],"as":["s","v"]},{"filter":"isValid(datum.v)"}],
"mark":{"type":"point","filled":false,"size":36,"strokeWidth":1.3,"opacity":1},
"encoding":{"color":{"field":"s","type":"nominal","scale":{"domain":["NOAA17","METOPA","NOAA16","NOAA18"],"range":["#00ffff","#0000ff","#00ff00","#ff0000"]},"legend":null},"shape":{"field":"s","type":"nominal","scale":{"domain":["NOAA17","METOPA","NOAA16","NOAA18"],"range":["triangle-down","circle","diamond","square"]},"legend":null}}},
{"data":{"name":"o3"},
"mark":{"type":"point","filled":false,"size":36,"strokeWidth":1.3,"opacity":1},
"encoding":{"color":{"field":"s","type":"nominal","scale":{"domain":["NOAA17","METOPA","NOAA16","NOAA18"],"range":["#00ffff","#0000ff","#00ff00","#ff0000"]},"legend":null},"shape":{"field":"s","type":"nominal","scale":{"domain":["NOAA17","METOPA","NOAA16","NOAA18"],"range":["triangle-down","circle","diamond","square"]},"legend":null}}},
{"data":{"name":"v3"},"mark":{"type":"rule","color":"black","strokeWidth":2},"encoding":{"y2":{"field":"v2"}}},
{"data":{"name":"a3"},"mark":{"type":"rule","color":"black","strokeWidth":2},"encoding":{"x2":{"field":"d2"}}},
{"data":{"name":"a3"},"mark":{"type":"point","shape":"M0,0L-2,-1L-2,1Z","filled":true,"color":"black","size":225,"opacity":1},"encoding":{"x":{"field":"d2","type":"temporal","scale":{"type":"utc","domain":[{"year":2008,"month":7,"date":1,"utc":true},{"year":2009,"month":1,"date":1,"utc":true}]}}}},
{"data":{"name":"t3"},"mark":{"type":"text","font":"Liberation Serif","fontSize":26,"align":"center","baseline":"alphabetic","color":"black"},"encoding":{"text":{"field":"t"}}},
{"data":{"name":"n3"},"mark":{"type":"text","font":"DejaVu Sans","fontSize":16.5,"align":"left","baseline":"alphabetic","color":"black"},"encoding":{"text":{"field":"t"}}}
]}
]
}
